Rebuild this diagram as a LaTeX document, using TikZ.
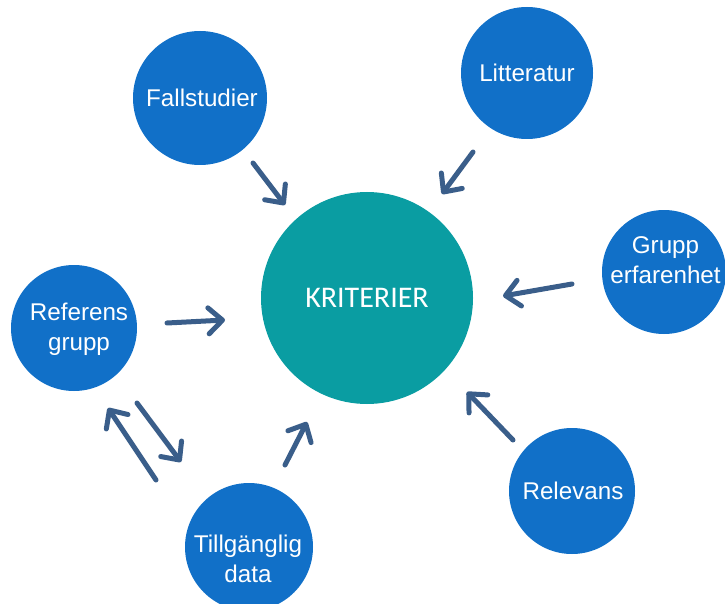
\documentclass[tikz,border=0pt]{standalone}
\usepackage{fontspec}
\setmainfont{Liberation Sans}
\newfontfamily\kritfont{Carlito}
\usetikzlibrary{arrows.meta}
\definecolor{bubble}{HTML}{1170C8}
\definecolor{core}{HTML}{0A9DA2}
\definecolor{arrowc}{HTML}{3A5E8A}
\tikzset{
  bubble/.style={circle, fill=bubble, draw=none, inner sep=0pt},
  label/.style={text=white, align=center, inner sep=0pt,
    font=\fontsize{24.2}{30}\selectfont},
  corebubble/.style={circle, fill=core, draw=none, text=white, inner sep=0pt,
    font=\kritfont\fontsize{30}{36}\selectfont},
  flow/.style={draw=arrowc, line width=5pt, line cap=round,
    -{Straight Barb[length=14pt, width=26pt, round]}},
}
\begin{document}
\begin{tikzpicture}[x=1pt, y=-1pt]
\useasboundingbox (0,0) rectangle (725,604);
\clip (0,0) rectangle (725,604);

% central bubble
\node[corebubble, minimum size=212pt] (krit) at (367,298) {KRITERIER};

% surrounding bubbles
\node[bubble, minimum size=134pt] (fall) at (200,98) {};
\node[bubble, minimum size=132pt] (litt) at (527,73) {};
\node[bubble, minimum size=124pt] (grupp) at (664,272) {};
\node[bubble, minimum size=126pt] (ref) at (74,328) {};
\node[bubble, minimum size=126pt] (relev) at (572,491) {};
\node[bubble, minimum size=128pt] (till) at (249,547) {};

% bubble labels
\node[label] (fallt) at (202,98) {Fallstudier};
\node[label] (littt) at (527,73) {Litteratur};
\node[label] (gruppt) at (665.5,260) {Grupp\\erfarenhet};
\node[label] (reft) at (79,329) {Referens\\grupp};
\node[label] (relevt) at (573,491) {Relevans};
\node[label] (tillt) at (248,559) {Tillgänglig\\data};

% arrow end points
\coordinate (a1s) at (253,163); \coordinate (a1e) at (285,205);
\coordinate (a2s) at (473,152); \coordinate (a2e) at (442,194);
\coordinate (a3s) at (572,284); \coordinate (a3e) at (503,296);
\coordinate (a4s) at (167,323); \coordinate (a4e) at (225,320);
\coordinate (a5s) at (513,440); \coordinate (a5e) at (467,392);
\coordinate (a6s) at (285,465); \coordinate (a6e) at (307,422);
\coordinate (a7s) at (156,480); \coordinate (a7e) at (108,408);
\coordinate (a8s) at (137,403); \coordinate (a8e) at (181,462);

% arrows toward the centre and between the lower-left pair
\draw[flow] (a1s) -- (a1e);
\draw[flow] (a2s) -- (a2e);
\draw[flow] (a3s) -- (a3e);
\draw[flow] (a4s) -- (a4e);
\draw[flow] (a5s) -- (a5e);
\draw[flow] (a6s) -- (a6e);
\draw[flow] (a7s) -- (a7e);
\draw[flow] (a8s) -- (a8e);
\end{tikzpicture}
\end{document}
